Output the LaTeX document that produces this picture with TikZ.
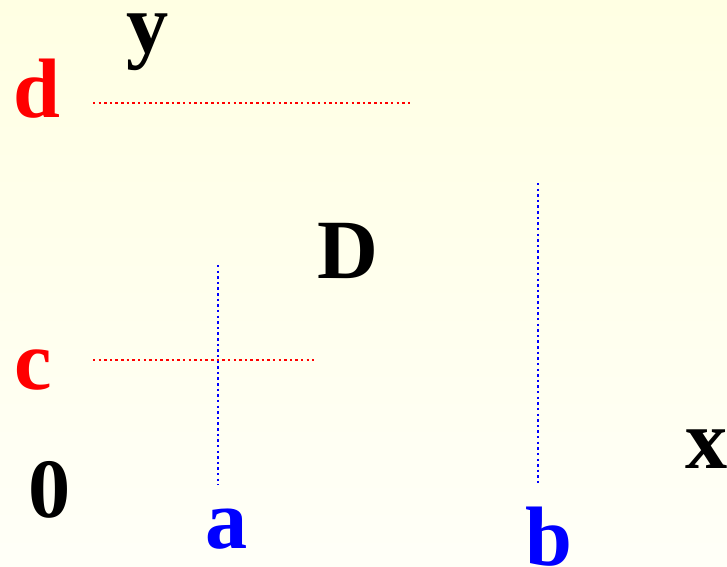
\documentclass[tikz,border=0pt]{standalone}
\usepackage{fontspec}
\setmainfont{Liberation Serif}
\usepackage{tikz}
\tikzstyle{letter} = [inner sep=0pt, anchor=base, font=\fontsize{48}{48}\selectfont\bfseries]
\tikzstyle{redline} = [red, line width=0.9pt, dash pattern=on 1.4pt off 1.8pt]
\tikzstyle{blueline} = [blue, line width=0.9pt, dash pattern=on 1.4pt off 1.8pt]

\begin{document}
\begin{tikzpicture}[x=0.02cm, y=-0.02cm]
    \shade[top color=yellow!11, bottom color=yellow!3] (0,0) rectangle (727,566);
    \useasboundingbox (0,0) rectangle (727,566);
    % labels
    \node[letter] (y) at (148,52) {y};
    \node[letter, red] (d) at (37,117) {d};
    \node[letter] (D) at (348,278) {D};
    \node[letter, red] (c) at (33,389) {c};
    \node[letter] (o) at (50,517) {0};
    \node[letter, blue] (a) at (227,548) {a};
    \node[letter, blue] (b) at (549,565) {b};
    \node[letter] (x) at (707,468) {x};
    % end points
    \coordinate (d1) at (93,103);
    \coordinate (d2) at (410,103);
    \coordinate (c1) at (93,360);
    \coordinate (c2) at (314,360);
    \coordinate (a1) at (218,265);
    \coordinate (a2) at (218,485);
    \coordinate (b1) at (538,183);
    \coordinate (b2) at (538,485);
    \draw[redline] (d1) -- (d2);
    \draw[redline] (c1) -- (c2);
    \draw[blueline] (a1) -- (a2);
    \draw[blueline] (b1) -- (b2);
\end{tikzpicture}
\end{document}
